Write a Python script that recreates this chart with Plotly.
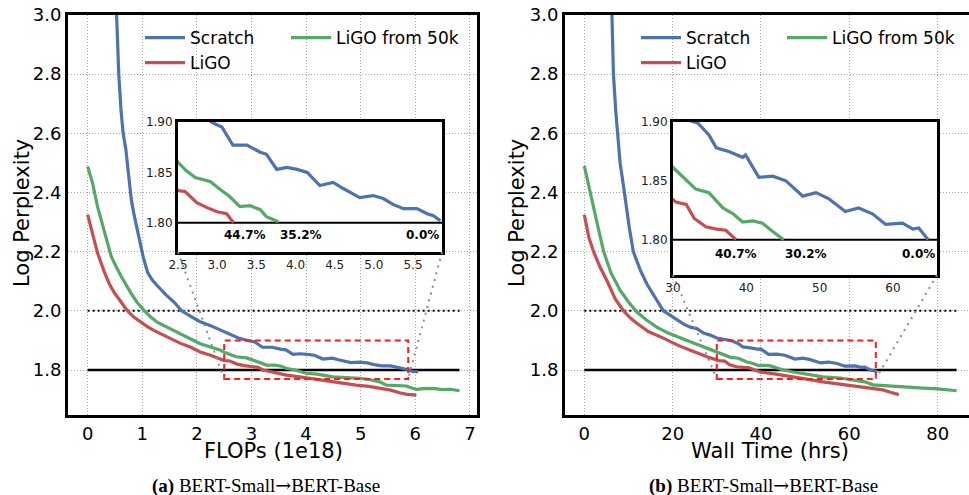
import plotly.graph_objects as go

# ---- data ----
# (a) FLOPs (1e18)
flops_scratch_x = [0.50, 0.53, 0.57, 0.61, 0.65, 0.70, 0.76, 0.80, 0.855, 0.95, 1.02, 1.10, 1.18, 1.28, 1.43,
                   1.59, 1.72, 1.88, 2.05, 2.25, 2.42, 2.60, 2.78, 2.95, 3.06, 3.20, 3.38, 3.55, 3.63, 3.76,
                   3.89, 4.02, 4.15, 4.31, 4.48, 4.61, 4.82, 4.99, 5.12, 5.25, 5.38, 5.55, 5.68, 5.76, 5.85,
                   5.95, 6.05]
flops_scratch_y = [3.15, 3.00, 2.80, 2.68, 2.60, 2.545, 2.432, 2.375, 2.32, 2.241, 2.18, 2.129, 2.105, 2.084, 2.055,
                   2.028, 2.000, 1.982, 1.964, 1.950, 1.936, 1.920, 1.907, 1.899, 1.895, 1.877, 1.877, 1.870, 1.868, 1.853,
                   1.855, 1.853, 1.850, 1.837, 1.840, 1.834, 1.825, 1.827, 1.824, 1.818, 1.814, 1.814, 1.809, 1.807, 1.802,
                   1.795, 1.794]
flops_ligo_x = [0.00, 0.09, 0.18, 0.31, 0.40, 0.49, 0.61, 0.73, 0.85, 0.98, 1.10, 1.22, 1.38, 1.53, 1.70,
                1.89, 2.05, 2.25, 2.42, 2.50, 2.59, 2.74, 2.87, 3.00, 3.12, 3.21, 3.40, 3.64, 3.85, 4.07,
                4.28, 4.49, 4.70, 4.92, 5.15, 5.35, 5.55, 5.71, 5.85, 6.02]
flops_ligo_y = [2.325, 2.263, 2.196, 2.129, 2.090, 2.061, 2.030, 2.000, 1.978, 1.961, 1.946, 1.933, 1.918, 1.905, 1.890,
                1.877, 1.862, 1.850, 1.839, 1.832, 1.831, 1.820, 1.815, 1.811, 1.809, 1.800, 1.792, 1.783, 1.778, 1.772,
                1.767, 1.760, 1.755, 1.749, 1.745, 1.738, 1.732, 1.723, 1.718, 1.715]
flops_ligo50k_x = [0.00, 0.09, 0.18, 0.31, 0.43, 0.52, 0.61, 0.79, 0.90, 1.04, 1.15, 1.28, 1.45, 1.65, 1.80,
                   1.95, 2.05, 2.26, 2.42, 2.50, 2.60, 2.72, 2.91, 3.04, 3.16, 3.29, 3.42, 3.55, 3.63, 3.78,
                   4.00, 4.20, 4.49, 4.75, 4.98, 5.15, 5.35, 5.47, 5.65, 5.84, 5.92, 6.02, 6.15, 6.32, 6.50,
                   6.65, 6.81]
flops_ligo50k_y = [2.488, 2.432, 2.353, 2.263, 2.185, 2.150, 2.118, 2.061, 2.030, 2.000, 1.980, 1.961, 1.945, 1.927, 1.912,
                   1.899, 1.890, 1.877, 1.868, 1.860, 1.852, 1.845, 1.841, 1.833, 1.826, 1.816, 1.817, 1.813, 1.806, 1.801,
                   1.789, 1.786, 1.777, 1.775, 1.772, 1.768, 1.760, 1.749, 1.748, 1.746, 1.740, 1.735, 1.737, 1.738, 1.734,
                   1.735, 1.730]

# (b) Wall time (hrs)
hrs_scratch_x = [6.0, 6.3, 6.6, 7.1, 7.5, 8.1, 8.8, 9.4, 10.2, 11.1, 12.7, 14.2, 15.8, 17.9, 19.5,
                 21.0, 22.5, 24.0, 25.5, 27.0, 28.5, 30.0, 31.5, 33.4, 34.9, 35.9, 37.6, 39.5, 39.9, 41.7,
                 43.6, 45.4, 47.7, 49.5, 51.2, 53.5, 55.3, 57.2, 59.0, 61.3, 62.7, 63.5, 64.8, 66.3]
hrs_scratch_y = [3.15, 3.00, 2.80, 2.68, 2.60, 2.50, 2.43, 2.36, 2.28, 2.20, 2.137, 2.09, 2.05, 2.00, 1.985,
                 1.970, 1.955, 1.945, 1.940, 1.925, 1.918, 1.908, 1.903, 1.899, 1.889, 1.878, 1.875, 1.870, 1.872, 1.853,
                 1.854, 1.850, 1.837, 1.840, 1.835, 1.824, 1.827, 1.822, 1.813, 1.814, 1.809, 1.810, 1.800, 1.795]
hrs_ligo_x = [0.0, 1.0, 2.1, 3.5, 5.2, 7.0, 8.9, 10.5, 11.9, 14.5, 17.9, 21.0, 24.0, 26.0, 27.8,
              30.4, 31.8, 32.9, 34.5, 35.9, 37.2, 38.6, 40.0, 43.0, 46.6, 50.0, 54.0, 58.0, 61.7, 64.5,
              67.6, 69.5, 71.2]
hrs_ligo_y = [2.325, 2.25, 2.20, 2.15, 2.10, 2.04, 2.00, 1.975, 1.958, 1.930, 1.908, 1.885, 1.867, 1.855, 1.845,
              1.832, 1.830, 1.818, 1.811, 1.809, 1.808, 1.800, 1.793, 1.787, 1.777, 1.770, 1.760, 1.752, 1.743, 1.738,
              1.733, 1.724, 1.717]
hrs_ligo50k_x = [0.0, 1.0, 2.0, 3.0, 4.4, 6.0, 8.1, 10.0, 11.9, 14.0, 16.4, 19.0, 22.4, 26.0, 28.5,
                 30.4, 33.1, 34.9, 36.8, 38.2, 39.5, 40.9, 42.2, 43.6, 45.1, 47.0, 50.0, 54.0, 58.0, 61.6,
                 63.5, 65.4, 68.0, 71.4, 74.0, 76.7, 80.0, 84.3]
hrs_ligo50k_y = [2.49, 2.42, 2.35, 2.29, 2.20, 2.13, 2.07, 2.03, 1.996, 1.97, 1.945, 1.925, 1.905, 1.885, 1.870,
                 1.859, 1.843, 1.840, 1.827, 1.822, 1.815, 1.816, 1.814, 1.807, 1.800, 1.794, 1.787, 1.777, 1.773, 1.766,
                 1.760, 1.750, 1.748, 1.743, 1.741, 1.739, 1.736, 1.730]

target_ppl = 1.8        # solid black reference line
scratch_mark = 2.0      # dotted black reference line
zoom_y = [1.77, 1.90]   # zoomed window (red box / inset y range)
flops_zoom_x = [2.5, 5.87]
hrs_zoom_x = [30, 66]
flops_savings = ["44.7%", "35.2%", "0.0%"]
flops_savings_x = [3.36, 4.07, 5.62]
hrs_savings = ["40.7%", "30.2%", "0.0%"]
hrs_savings_x = [38.6, 48.1, 63.5]

BLUE, RED, GREEN = "#4C72B0", "#C44E52", "#55A868"
W, H = 969, 495


def px_x(a, b):
    return [a / W, b / W]


def px_y(top, bottom):
    return [1 - bottom / H, 1 - top / H]


fig = go.Figure()

panels = [
    dict(ax="", inset="3", xs=(flops_scratch_x, flops_ligo_x, flops_ligo50k_x),
         ys=(flops_scratch_y, flops_ligo_y, flops_ligo50k_y), zx=flops_zoom_x,
         sav=flops_savings, savx=flops_savings_x, legs=("legend", "legend2", "legend3")),
    dict(ax="2", inset="4", xs=(hrs_scratch_x, hrs_ligo_x, hrs_ligo50k_x),
         ys=(hrs_scratch_y, hrs_ligo_y, hrs_ligo50k_y), zx=hrs_zoom_x,
         sav=hrs_savings, savx=hrs_savings_x, legs=("legend4", "legend5", "legend6")),
]

names = ["Scratch", "LiGO", "LiGO from 50k"]
colors = [BLUE, RED, GREEN]

for p in panels:
    xa, ya = "x" + p["ax"], "y" + p["ax"]
    xi, yi = "x" + p["inset"], "y" + p["inset"]
    x_end = max(max(v) for v in p["xs"])
    # reference lines
    fig.add_trace(go.Scatter(x=[0, x_end], y=[scratch_mark, scratch_mark], mode="lines", xaxis=xa, yaxis=ya,
                             line=dict(color="black", width=2, dash="2px,3px"), showlegend=False, hoverinfo="skip"))
    fig.add_trace(go.Scatter(x=[0, x_end], y=[target_ppl, target_ppl], mode="lines", xaxis=xa, yaxis=ya,
                             line=dict(color="black", width=2.5), showlegend=False, hoverinfo="skip"))
    for name, col, xs, ys, leg in zip(names, colors, p["xs"], p["ys"], p["legs"]):
        fig.add_trace(go.Scatter(x=xs, y=ys, mode="lines", name=name, xaxis=xa, yaxis=ya, legend=leg,
                                 line=dict(color=col, width=3.2)))
    # inset: curves only down to the target line
    fig.add_trace(go.Scatter(x=p["zx"], y=[target_ppl, target_ppl], mode="lines", xaxis=xi, yaxis=yi,
                             line=dict(color="black", width=2), showlegend=False, hoverinfo="skip"))
    for name, col, xs, ys in zip(names, colors, p["xs"], p["ys"]):
        keep = [(a, b) for a, b in zip(xs, ys) if b >= target_ppl - 1e-9]
        fig.add_trace(go.Scatter(x=[a for a, _ in keep], y=[b for _, b in keep], mode="lines",
                                 xaxis=xi, yaxis=yi, showlegend=False, line=dict(color=col, width=3.2)))
    for t, tx in zip(p["sav"], p["savx"]):
        fig.add_annotation(x=tx, y=1.788, xref=xi, yref=yi, text="<b>" + t + "</b>", showarrow=False,
                           font=dict(size=12, color="black"))
    # red zoom box
    fig.add_shape(type="rect", xref=xa, yref=ya, x0=p["zx"][0], x1=p["zx"][1], y0=zoom_y[0], y1=zoom_y[1],
                  line=dict(color="#ff1a1a", width=2, dash="6px,4px"))

grid = dict(showgrid=True, gridcolor="#a8a8a8", griddash="1px,2px", gridwidth=1, zeroline=False,
            showline=True, linecolor="black", linewidth=3, ticks="", automargin=False,
            tickfont=dict(size=18, color="black"))
inset_ax = dict(showgrid=False, zeroline=False, showline=True, mirror=True, linecolor="black", linewidth=3,
                ticks="", automargin=False, tickfont=dict(size=12, color="#222"))

main_y = px_y(15, 415)
fig.update_layout(
    width=W, height=H, margin=dict(l=0, r=0, t=0, b=0),
    paper_bgcolor="white", plot_bgcolor="white",
    font=dict(family="DejaVu Sans", color="black"),
    xaxis=dict(domain=px_x(68, 477), range=[-0.36, 7.13], dtick=1, mirror=True, anchor="y", **grid),
    yaxis=dict(domain=main_y, range=[1.648, 3.0], dtick=0.2, tickformat=".1f", mirror=True, anchor="x", **grid),
    xaxis2=dict(domain=px_x(565, 969), range=[-4.37, 87.1], dtick=20, mirror=True, anchor="y2", **grid),
    yaxis2=dict(domain=main_y, range=[1.648, 3.0], dtick=0.2, tickformat=".1f", mirror=False, anchor="x2", **grid),
    xaxis3=dict(domain=px_x(178, 442), range=flops_zoom_x, dtick=0.5, tickformat=".1f", anchor="y3", **inset_ax),
    yaxis3=dict(domain=px_y(122, 252), range=[1.771, 1.90], tickvals=[1.80, 1.85, 1.90], tickformat=".2f",
                anchor="x3", **inset_ax),
    xaxis4=dict(domain=px_x(673, 937), range=hrs_zoom_x, tickvals=[30, 40, 50, 60], anchor="y4", **inset_ax),
    yaxis4=dict(domain=px_y(122, 275), range=[1.77, 1.90], tickvals=[1.80, 1.85, 1.90], tickformat=".2f",
                anchor="x4", **inset_ax),
)

# legends: one entry per legend box to mimic the two-column layout
leg_style = dict(bgcolor="rgba(0,0,0,0)", font=dict(size=17, color="black"), xanchor="left", yanchor="middle",
                 itemwidth=40)
leg_pos = {"legend": (140, 38), "legend2": (140, 63), "legend3": (286, 38),
           "legend4": (636, 38), "legend5": (636, 63), "legend6": (782, 38)}
for k, (lx, ly) in leg_pos.items():
    fig.update_layout({k: dict(x=lx / W, y=1 - ly / H, **leg_style)})

# connector lines from inset's lower corners to the red box's lower corners
for xa, ya, xi, yi in [("xaxis", "yaxis", "xaxis3", "yaxis3"), ("xaxis2", "yaxis2", "xaxis4", "yaxis4")]:
    m_x, m_y = fig.layout[xa], fig.layout[ya]
    i_x, i_y = fig.layout[xi], fig.layout[yi]

    def to_main_x(f):
        return m_x.range[0] + (f - m_x.domain[0]) / (m_x.domain[1] - m_x.domain[0]) * (m_x.range[1] - m_x.range[0])

    def to_main_y(f):
        return m_y.range[0] + (f - m_y.domain[0]) / (m_y.domain[1] - m_y.domain[0]) * (m_y.range[1] - m_y.range[0])

    yb = to_main_y(i_y.domain[0])
    for k in (0, 1):
        fig.add_shape(type="line", xref=xa.replace("axis", ""), yref=ya.replace("axis", ""),
                      x0=to_main_x(i_x.domain[k]), y0=yb, x1=i_x.range[k], y1=zoom_y[0],
                      line=dict(color="#8c8c8c", width=2, dash="2px,5px"))

# axis titles and captions
for x, y, t, ang in [(22, 213, "Log Perplexity", -90), (517, 213, "Log Perplexity", -90),
                     (273, 451, "FLOPs (1e18)", 0), (770, 451, "Wall Time (hrs)", 0)]:
    fig.add_annotation(x=x / W, y=1 - y / H, xref="paper", yref="paper", text=t, textangle=ang,
                       xanchor="center", yanchor="middle", showarrow=False, font=dict(size=21, color="black"))
for x, lab in [(266, "a"), (763, "b")]:
    fig.add_annotation(x=x / W, y=1 - 485 / H, xref="paper", yref="paper", xanchor="center", yanchor="middle",
                       text="<b>(" + lab + ")</b> BERT-Small<span style='font-family:DejaVu Serif'>→</span>BERT-Base",
                       showarrow=False, font=dict(size=19, family="Liberation Serif", color="black"))

fig.write_html("out.html", config={"displayModeBar": False},
               post_script="document.body.style.margin='0px';")
